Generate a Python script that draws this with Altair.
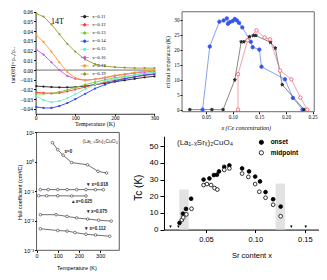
import altair as alt
import pandas as pd

W, H = 311, 264
SX, SY = W / 327, H / 280
def X(px): return px * SX
def Y(py): return py * SY

SERIF = "Liberation Serif"
SANS = "Liberation Sans"

# ---------------- Panel A: tan(theta_H) vs T ----------------
temp_a = [2, 20, 40, 60, 80, 100, 125, 150, 175, 200, 225, 250, 275, 300]
series_a = ["x=0.11", "x=0.12", "x=0.13", "x=0.14", "x=0.15", "x=0.16", "x=0.17", "x=0.19"]
colors_a = ["#222222", "#ff3b3b", "#77cc33", "#3344ee", "#66f0c8", "#c455ee", "#ff9933", "#9a9a30"]
tan_011 = [-0.0165, -0.017, -0.0175, -0.0178, -0.0178, -0.0175, -0.0165, -0.015, -0.0135, -0.012, -0.0105, -0.009, -0.0075, -0.0065]
tan_012 = [-0.023, -0.0235, -0.024, -0.0235, -0.022, -0.020, -0.0175, -0.015, -0.0125, -0.0105, -0.0085, -0.007, -0.0055, -0.0045]
tan_013 = [-0.0245, -0.0245, -0.024, -0.0225, -0.0205, -0.018, -0.015, -0.0125, -0.010, -0.008, -0.0065, -0.005, -0.0035, -0.0025]
tan_014 = [-0.038, -0.039, -0.039, -0.037, -0.034, -0.030, -0.0245, -0.019, -0.015, -0.0115, -0.009, -0.007, -0.005, -0.004]
tan_015 = [-0.027, -0.031, -0.033, -0.032, -0.029, -0.025, -0.0195, -0.015, -0.0115, -0.009, -0.007, -0.005, -0.0035, -0.0025]
tan_016 = [0.021, 0.016, 0.008, 0.000, -0.006, -0.009, -0.0105, -0.0095, -0.008, -0.006, -0.0045, -0.003, -0.002, -0.001]
tan_017 = [0.036, 0.029, 0.019, 0.008, -0.002, -0.008, -0.0105, -0.0095, -0.0075, -0.0055, -0.004, -0.0025, -0.001, 0.000]
tan_019 = [0.058, 0.055, 0.047, 0.037, 0.027, 0.019, 0.011, 0.006, 0.004, 0.003, 0.0025, 0.002, 0.002, 0.002]
tans_a = [tan_011, tan_012, tan_013, tan_014, tan_015, tan_016, tan_017, tan_019]

# ---------------- Panel B: Tc vs Ce content ----------------
series_b = ["La₂₋ₓCeₓCuO₄", "Nd₂₋ₓCeₓCuO₄", "Pr₂₋ₓCeₓCuO₄"]
la_x = [0.0435, 0.057, 0.075, 0.083, 0.089, 0.091, 0.095, 0.100, 0.104, 0.108, 0.112, 0.118, 0.134, 0.1375, 0.150, 0.154, 0.198, 0.213, 0.231]
la_tc = [0, 21.0, 29.3, 29.7, 30.4, 28.6, 29.2, 29.5, 30.2, 29.7, 28.9, 27.4, 22.6, 20.8, 20.0, 14.3, 10.1, 3.9, 0]
nd_x = [0.0196, 0.061, 0.082, 0.104, 0.116, 0.121, 0.1315, 0.139, 0.1435, 0.171, 0.180, 0.193, 0.234]
nd_tc = [0, 0, 0, 9.9, 22.6, 22.6, 24.3, 24.7, 24.7, 22.4, 20.5, 8.3, 0]
pr_x = [0.110, 0.110, 0.128, 0.1446, 0.160, 0.170, 0.189, 0.210, 0.227, 0.240]
pr_tc = [0, 11.8, 23.1, 26.4, 24.0, 23.4, 13.0, 10.1, 4.0, 0]

# ---------------- Panel C: Hall coefficient vs T ----------------
series_c = ["x=0", "x=0.018", "x=0.025", "x=0.075", "x=0.112"]
c_t0 = [75, 100, 125, 165, 240, 290, 330]
c_r0 = [4.5, 2.6, 1.7, 0.95, 0.8, 0.48, 0.42]
c_t1 = [18, 55, 100, 144, 189, 233, 278, 315]
c_r1 = [0.115, 0.115, 0.115, 0.115, 0.115, 0.115, 0.114, 0.114]
c_t2 = [10, 48, 100, 166, 233]
c_r2 = [0.071, 0.071, 0.071, 0.070, 0.070]
c_t3 = [18, 92, 144, 189, 241, 293, 352]
c_r3 = [0.0162, 0.0162, 0.0141, 0.0126, 0.0115, 0.0105, 0.0098]
c_t4 = [18, 100, 144, 181, 233, 278, 345]
c_r4 = [0.0054, 0.0047, 0.0045, 0.0040, 0.0035, 0.0033, 0.0030]
c_label_text = ["x=0", "▾ x=0.018", "▴ x=0.025", "▾ x=0.075", "▾ x=0.112"]
c_label_t = [150, 288, 214, 285, 278]
c_label_r = [2.2, 0.166, 0.044, 0.0195, 0.0052]

# ---------------- Panel D: Tc vs Sr content ----------------
on_x = [0.0232, 0.0267, 0.0298, 0.035, 0.0476, 0.0535, 0.058, 0.0611, 0.0632, 0.0685, 0.0737, 0.0866, 0.0936, 0.0998, 0.1047, 0.1103, 0.118, 0.1256]
on_tc = [4.0, 9.5, 12.4, 18.5, 30.0, 30.7, 32.7, 32.9, 34.9, 37.6, 38.5, 36.7, 34.9, 31.8, 28.9, 22.5, 18.2, 13.8]
mid_x = [0.0256, 0.027, 0.0301, 0.0354, 0.0476, 0.051, 0.0552, 0.0587, 0.0615, 0.0685, 0.0737, 0.0866, 0.0929, 0.0998, 0.104, 0.1103, 0.118, 0.1256]
mid_tc = [5.8, 7.3, 9.1, 12.5, 26.7, 27.3, 26.7, 24.9, 24.0, 35.8, 36.7, 33.6, 31.6, 27.3, 22.7, 19.1, 14.9, 8.0]
nsc_x = [0.0141, 0.0221, 0.1364, 0.151]
nsc_tc = [1.7, 1.7, 1.7, 1.7]
band_x1 = [0.0230, 0.1205]
band_x2 = [0.0325, 0.1300]
band_top = [24.0, 27.6]

# ====================== build ======================
def ax(orient, off, **kw):
    base = dict(orient=orient, offset=off, grid=False, labelOverlap=False, labelFlush=False,
                tickColor="black", domainColor="black", labelColor="black", titleColor="black",
                titleFontWeight="normal")
    base.update(kw)
    return alt.Axis(**base)

# ---- A ----
rows = []
for s, vals in zip(series_a, tans_a):
    for t, v in zip(temp_a, vals):
        rows.append({"Ta": t, "tana": v, "sa": s})
df_a = pd.DataFrame(rows)
xa = alt.Scale(domain=[0, 300], range=[X(29), X(154)], nice=False, zero=False)
ya = alt.Scale(domain=[-0.045, 0.06], range=[Y(112.2), Y(4)], nice=False, zero=False)
axA_x = ax("bottom", Y(112.2) - H, values=[0, 100, 200, 300], labelFont=SERIF, labelFontSize=5.5,
           tickSize=1.5, labelPadding=0.5, domainWidth=0.8,
           title="Temperature (K)", titleFont=SERIF, titleFontSize=6,
           titleX=X(91), titleY=(123 - 112.2) * SY, titleBaseline="middle", titleAlign="center")
axA_y = ax("left", -X(29), values=[-0.04, -0.03, -0.02, -0.01, 0, 0.01, 0.02, 0.03, 0.04, 0.05, 0.06],
           format=".2f", labelFont=SERIF, labelFontSize=5.5, tickSize=2, labelPadding=1, domainWidth=0.8,
           title="tan(θH)=ρₓᵧ/ρₓₓ", titleFont=SERIF, titleFontSize=6,
           titleX=X(5) - X(29), titleY=Y(60), titleBaseline="middle", titleAlign="center", titleAngle=270)
leg_path = "M-2.2,0H2.2M-0.7,0a0.7,0.7 0 1,0 1.4,0a0.7,0.7 0 1,0 -1.4,0"
legA = alt.Legend(orient="none", legendX=X(78), legendY=Y(6.5), title=None, labelFont=SERIF,
                  labelFontSize=4.8, symbolType=leg_path, symbolSize=14, symbolStrokeWidth=0.7,
                  rowPadding=1.2, labelOffset=5, padding=0, labelColor="black")
colA = alt.Color("sa:N", scale=alt.Scale(domain=series_a, range=colors_a), legend=legA)
zero_a = alt.Chart(pd.DataFrame({"Ta": [0], "Ta2": [300], "tana": [0]})).mark_rule(
    color="#333333", strokeWidth=0.7).encode(
    x=alt.X("Ta:Q", scale=xa, axis=axA_x), x2="Ta2:Q", y=alt.Y("tana:Q", scale=ya, axis=axA_y))
lines_a = alt.Chart(df_a).mark_line(strokeWidth=0.9).encode(
    x=alt.X("Ta:Q", scale=xa, axis=axA_x), y=alt.Y("tana:Q", scale=ya, axis=axA_y), color=colA)
pts_a = alt.Chart(df_a).mark_point(size=5, filled=True, opacity=1).encode(
    x=alt.X("Ta:Q", scale=xa, axis=axA_x), y=alt.Y("tana:Q", scale=ya, axis=axA_y), color=colA)
txt_a = alt.Chart(pd.DataFrame({"Ta": [55], "tana": [0.049], "t": ["14T"]})).mark_text(
    font=SERIF, fontSize=8, align="center", baseline="middle", color="black").encode(
    x=alt.X("Ta:Q", scale=xa, axis=axA_x), y=alt.Y("tana:Q", scale=ya, axis=axA_y), text="t:N")
panel_a = alt.layer(zero_a, lines_a, pts_a, txt_a)

# ---- B ----
rows = []
for s, xs, ts in zip(series_b, [la_x, nd_x, pr_x], [la_tc, nd_tc, pr_tc]):
    for i, (xx, tt) in enumerate(zip(xs, ts)):
        rows.append({"xb": xx, "tcb": tt, "sb": s, "ib": i})
df_b = pd.DataFrame(rows)
xb = alt.Scale(domain=[0.005, 0.253], range=[X(183), X(322)], nice=False, zero=False)
yb = alt.Scale(domain=[-0.7, 32.6], range=[Y(110), Y(4)], nice=False, zero=False)
axB_x = ax("bottom", Y(110) - H, values=[0, 0.05, 0.1, 0.15, 0.2, 0.25], format=".2f", domain=False,
           labelFont=SERIF, labelFontSize=5.2, tickSize=2, labelPadding=1,
           title="x (Ce concentration)", titleFont=SERIF, titleFontSize=6, titleFontStyle="italic",
           titleX=X(250), titleY=(127 - 110) * SY, titleBaseline="middle", titleAlign="center")
axB_y = ax("left", -X(183), values=[0, 5, 10, 15, 20, 25, 30], domain=False,
           labelFont=SERIF, labelFontSize=5.2, tickSize=2, labelPadding=1,
           title="critical temperature (K)", titleFont=SERIF, titleFontSize=5.5,
           titleX=X(168) - X(183), titleY=Y(57), titleBaseline="middle", titleAlign="center", titleAngle=270)
colors_b = ["#3355ee", "#222222", "#ee5566"]
STAR = "M0,-1L0.235,-0.324L0.951,-0.309L0.38,0.124L0.588,0.809L0,0.4L-0.588,0.809L-0.38,0.124L-0.951,-0.309L-0.235,-0.324Z"
legB = alt.Legend(orient="none", legendX=X(271), legendY=Y(3), title=None, labelFont=SERIF,
                  labelFontSize=5.8, symbolSize=14, symbolStrokeWidth=0.8, rowPadding=4.2,
                  labelOffset=4, padding=0,
                  labelColor={"expr": "datum.index === 0 ? '#3355ee' : datum.index === 2 ? '#ee4455' : '#222222'"})
frame_b = alt.Chart(pd.DataFrame({"xb": [0.005], "xb2": [0.253], "tcb": [-0.7], "tcb2": [32.6]})).mark_rect(
    fill=None, stroke="#444444", strokeWidth=0.8).encode(
    x=alt.X("xb:Q", scale=xb, axis=axB_x), x2="xb2:Q", y=alt.Y("tcb:Q", scale=yb, axis=axB_y), y2="tcb2:Q")
lines_b = alt.Chart(df_b).mark_line(strokeWidth=0.7).encode(
    x=alt.X("xb:Q", scale=xb, axis=axB_x), y=alt.Y("tcb:Q", scale=yb, axis=axB_y),
    color=alt.Color("sb:N", scale=alt.Scale(domain=series_b, range=["#5577ee", "#555555", "#ee7788"]), legend=None),
    order="ib:Q")
pts_b = alt.Chart(df_b).mark_point(size=12, strokeWidth=0.8, opacity=1).encode(
    x=alt.X("xb:Q", scale=xb, axis=axB_x), y=alt.Y("tcb:Q", scale=yb, axis=axB_y),
    stroke=alt.Stroke("sb:N", scale=alt.Scale(domain=series_b, range=colors_b), legend=legB),
    fill=alt.Fill("sb:N", scale=alt.Scale(domain=series_b, range=["#3355ee", "#222222", "white"]), legend=legB),
    shape=alt.Shape("sb:N", scale=alt.Scale(domain=series_b, range=["circle", STAR, "circle"]), legend=legB))
panel_b = alt.layer(frame_b, lines_b, pts_b)

# ---- C ----
rows = []
for s, ts, rs in zip(series_c, [c_t0, c_t1, c_t2, c_t3, c_t4], [c_r0, c_r1, c_r2, c_r3, c_r4]):
    for t, r in zip(ts, rs):
        rows.append({"Tc_": t, "rh": r, "sc": s})
df_c = pd.DataFrame(rows)
xc = alt.Scale(domain=[0, 390], range=[X(30), X(117)], nice=False, zero=False)
yc = alt.Scale(type="log", domain=[1e-3, 1e1], range=[Y(257), Y(132)], nice=False)
axC_x = ax("bottom", Y(257) - H, values=[0, 100, 200, 300], domain=False,
           labelFont=SANS, labelFontSize=5.5, tickSize=2, labelPadding=1,
           title="Temperature (K)", titleFont=SANS, titleFontSize=5.5,
           titleX=X(72), titleY=(275 - 257) * SY, titleBaseline="middle", titleAlign="center")
axC_y = ax("left", -X(30), values=[0.001, 0.01, 0.1, 1, 10], domain=False,
           labelExpr="datum.value >= 5 ? '10¹' : datum.value >= 0.5 ? '10⁰' : datum.value >= 0.05 ? '10⁻¹' : datum.value >= 0.005 ? '10⁻²' : '10⁻³'",
           labelFont=SANS, labelFontSize=5.5, tickSize=2, labelPadding=1,
           title="Hall coefficient (cm³/C)", titleFont=SANS, titleFontSize=5.5,
           titleX=X(12) - X(30), titleY=Y(195), titleBaseline="middle", titleAlign="center", titleAngle=270)
frame_c = alt.Chart(pd.DataFrame({"Tc_": [0], "Tc2": [390], "rh": [1e-3], "rh2": [1e1]})).mark_rect(
    fill=None, stroke="#333333", strokeWidth=0.8).encode(
    x=alt.X("Tc_:Q", scale=xc, axis=axC_x), x2="Tc2:Q", y=alt.Y("rh:Q", scale=yc, axis=axC_y), y2="rh2:Q")
lines_c = alt.Chart(df_c).mark_line(strokeWidth=0.7, color="#333333").encode(
    x=alt.X("Tc_:Q", scale=xc, axis=axC_x), y=alt.Y("rh:Q", scale=yc, axis=axC_y), detail="sc:N")
pts_c = alt.Chart(df_c).mark_point(size=7, strokeWidth=0.6, fill="white", filled=True,
                                   stroke="#333333", opacity=1).encode(
    x=alt.X("Tc_:Q", scale=xc, axis=axC_x), y=alt.Y("rh:Q", scale=yc, axis=axC_y))
lab_c = alt.Chart(pd.DataFrame({"Tc_": c_label_t, "rh": c_label_r, "t": c_label_text})).mark_text(
    font=SANS, fontSize=4.5, fontWeight="bold", color="#222222", align="center", baseline="middle").encode(
    x=alt.X("Tc_:Q", scale=xc, axis=axC_x), y=alt.Y("rh:Q", scale=yc, axis=axC_y), text="t:N")
title_c = alt.Chart(pd.DataFrame({"Tc_": [300], "rh": [5.0], "t": ["(La₁₋ₓSrₓ)₂CuO₄"]})).mark_text(
    font=SANS, fontSize=5, color="#333333", align="center", baseline="middle").encode(
    x=alt.X("Tc_:Q", scale=xc, axis=axC_x), y=alt.Y("rh:Q", scale=yc, axis=axC_y), text="t:N")
panel_c = alt.layer(frame_c, lines_c, pts_c, lab_c, title_c)

# ---- D ----
xd = alt.Scale(domain=[0.0075, 0.165], range=[X(164), X(327.6)], nice=False, zero=False)
yd = alt.Scale(domain=[0, 56], range=[Y(235), Y(136)], nice=False, zero=False)
axD_x = ax("bottom", Y(235) - H, values=[0.05, 0.10, 0.15], format=".2f", domainWidth=1,
           labelFont=SANS, labelFontSize=7.5, tickSize=3, labelPadding=3,
           title="Sr content x", titleFont=SANS, titleFontSize=7.5,
           titleX=X(256), titleY=(262 - 235) * SY, titleBaseline="middle", titleAlign="center")
axD_y = ax("left", -X(164), values=[0, 10, 20, 30, 40, 50], domainWidth=1,
           labelFont=SANS, labelFontSize=8, tickSize=4, labelPadding=2,
           title="Tc (K)", titleFont=SANS, titleFontSize=10,
           titleX=X(137) - X(164), titleY=Y(190), titleBaseline="middle", titleAlign="center", titleAngle=270)
kinds = ["onset", "midpoint"]
legD = alt.Legend(orient="none", legendX=X(263), legendY=Y(139), title=None, labelFont=SANS,
                  labelFontSize=6.5, labelFontWeight="bold", symbolSize=18, symbolStrokeColor="black",
                  symbolStrokeWidth=0.8, rowPadding=2.5, labelOffset=6, padding=0, labelColor="black")
df_d = pd.DataFrame({"xd": on_x + mid_x, "tcd": on_tc + mid_tc,
                     "kd": ["onset"] * len(on_x) + ["midpoint"] * len(mid_x)})
bands = alt.Chart(pd.DataFrame({"xd": band_x1, "xd2": band_x2, "tcd": [0, 0], "tcd2": band_top})).mark_rect(
    fill="#e2e2e2", opacity=1).encode(
    x=alt.X("xd:Q", scale=xd, axis=axD_x), x2="xd2:Q", y=alt.Y("tcd:Q", scale=yd, axis=axD_y), y2="tcd2:Q")
pts_d = alt.Chart(df_d).mark_point(size=14, stroke="black", strokeWidth=0.8, shape="circle", opacity=1).encode(
    x=alt.X("xd:Q", scale=xd, axis=axD_x), y=alt.Y("tcd:Q", scale=yd, axis=axD_y),
    fill=alt.Fill("kd:N", scale=alt.Scale(domain=kinds, range=["black", "white"]), legend=legD))
nsc_d = alt.Chart(pd.DataFrame({"xd": nsc_x, "tcd": nsc_tc})).mark_point(
    shape="triangle-down", size=7, filled=True, color="black", opacity=1).encode(
    x=alt.X("xd:Q", scale=xd, axis=axD_x), y=alt.Y("tcd:Q", scale=yd, axis=axD_y))
title_d = alt.Chart(pd.DataFrame({"xd": [0.049], "tcd": [52], "t": ["(La₁₋ₓSrₓ)₂CuO₄"]})).mark_text(
    font=SANS, fontSize=8, color="#222222", align="center", baseline="middle").encode(
    x=alt.X("xd:Q", scale=xd, axis=axD_x), y=alt.Y("tcd:Q", scale=yd, axis=axD_y), text="t:N")
panel_d = alt.layer(bands, pts_d, nsc_d, title_d)

chart = alt.layer(panel_a, panel_b, panel_c, panel_d).resolve_scale(
    x="independent", y="independent", color="independent", fill="independent",
    stroke="independent", shape="independent"
).resolve_axis(x="independent", y="independent").resolve_legend(
    color="independent", fill="independent", stroke="independent", shape="independent"
).properties(
    width=W, height=H, autosize=alt.AutoSizeParams(type="none"), padding=0, background="white"
).configure_view(stroke=None)

chart.save("out.html", embed_options={"renderer": "svg", "actions": False})
